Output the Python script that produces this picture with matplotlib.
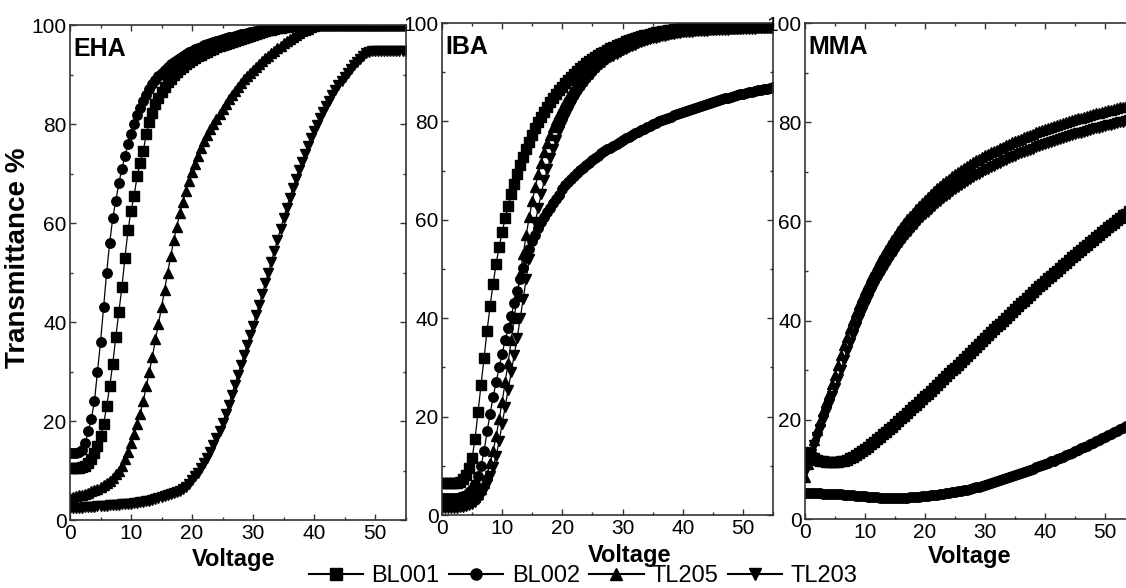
import numpy as np
import matplotlib
matplotlib.use("Agg")
import matplotlib.pyplot as plt
import matplotlib.transforms as mtransforms
from matplotlib.ticker import MultipleLocator
from matplotlib.lines import Line2D

plt.rcParams['font.family'] = ['Liberation Sans', 'DejaVu Sans']

# voltage sweep, one reading every 0.5 V
voltage = np.arange(0, 55.5, 0.5)

series_names = ["BL001", "BL002", "TL205", "TL203"]
series_markers = ["s", "o", "^", "v"]
panel_names = ["EHA", "IBA", "MMA"]

# ---- EHA ----
eha_bl001 = [10.5, 10.5, 10.6, 10.6, 10.8, 11.0, 11.5, 12.3, 13.5, 15.0,
             17.0, 19.3, 23.0, 27.0, 31.5, 37.0, 42.0, 47.0, 53.0, 58.5,
             62.5, 65.5, 69.5, 72.2, 74.5, 78.0, 80.5, 82.3, 84.0, 85.3,
             86.5, 87.5, 88.4, 89.2, 89.9, 90.5, 91.1, 91.6, 92.1, 92.5,
             92.9, 93.3, 93.7, 94.0, 94.3, 94.6, 94.9, 95.2, 95.5, 95.7,
             96.0, 96.2, 96.4, 96.6, 96.8, 97.0, 97.2, 97.4, 97.6, 97.8,
             98.0, 98.2, 98.4, 98.6, 98.8, 98.9, 99.1, 99.2, 99.4, 99.5,
             99.6, 99.7, 99.8, 99.9, 100, 100, 100, 100, 100, 100,
             100, 100, 100, 100, 100, 100, 100, 100, 100, 100,
             100, 100, 100, 100, 100, 100, 100, 100, 100, 100,
             100, 100, 100, 100, 100, 100, 100, 100, 100, 100,
             100]
eha_bl002 = [13.5, 13.5, 13.6, 13.8, 14.2, 15.5, 18.0, 20.5, 24.0, 30.0,
             36.0, 43.0, 50.0, 56.0, 61.0, 64.5, 68.0, 71.0, 73.5, 76.0,
             78.0, 80.0, 81.8, 83.3, 84.7, 85.9, 87.0, 88.0, 88.9, 89.7,
             90.4, 91.0, 91.6, 92.1, 92.6, 93.0, 93.4, 93.8, 94.2, 94.5,
             94.8, 95.1, 95.4, 95.6, 95.9, 96.1, 96.3, 96.5, 96.7, 96.9,
             97.1, 97.3, 97.5, 97.6, 97.8, 97.9, 98.1, 98.2, 98.4, 98.5,
             98.6, 98.8, 98.9, 99.0, 99.1, 99.2, 99.3, 99.4, 99.5, 99.6,
             99.7, 99.8, 99.9, 100, 100, 100, 100, 100, 100, 100,
             100, 100, 100, 100, 100, 100, 100, 100, 100, 100,
             100, 100, 100, 100, 100, 100, 100, 100, 100, 100,
             100, 100, 100, 100, 100, 100, 100, 100, 100, 100,
             100]
eha_tl205 = [4.5, 4.6, 4.8, 5.0, 5.1, 5.3, 5.5, 5.8, 6.0, 6.3,
             6.6, 7.0, 7.4, 7.9, 8.5, 9.2, 10.0, 11.0, 12.3, 13.8,
             15.5, 17.3, 19.3, 21.5, 24.0, 27.0, 30.0, 33.0, 36.5, 39.7,
             43.0, 46.5, 50.0, 53.3, 56.5, 59.3, 62.0, 64.3, 66.5, 68.5,
             70.3, 72.0, 73.6, 75.1, 76.5, 77.8, 79.0, 80.1, 81.1, 82.1,
             83.1, 84.1, 85.0, 85.9, 86.7, 87.5, 88.3, 89.0, 89.7, 90.4,
             91.0, 91.6, 92.2, 92.8, 93.3, 93.8, 94.3, 94.8, 95.3, 95.8,
             96.3, 96.7, 97.1, 97.5, 97.9, 98.3, 98.7, 99.0, 99.3, 99.6,
             99.8, 100, 100, 100, 100, 100, 100, 100, 100, 100,
             100, 100, 100, 100, 100, 100, 100, 100, 100, 100,
             100, 100, 100, 100, 100, 100, 100, 100, 100, 100,
             100]
eha_tl203 = [2.4, 2.4, 2.5, 2.5, 2.5, 2.6, 2.6, 2.7, 2.7, 2.8,
             2.8, 2.9, 2.9, 3.0, 3.0, 3.1, 3.1, 3.2, 3.2, 3.3,
             3.3, 3.4, 3.5, 3.6, 3.7, 3.8, 3.9, 4.0, 4.2, 4.4,
             4.6, 4.8, 5.0, 5.2, 5.4, 5.6, 5.9, 6.2, 6.6, 7.2,
             8.0, 8.8, 9.6, 10.5, 11.5, 12.6, 13.8, 15.1, 16.5, 18.0,
             19.6, 21.4, 23.3, 25.3, 27.3, 29.3, 31.3, 33.3, 35.3, 37.3,
             39.3, 41.4, 43.5, 45.6, 47.8, 50.0, 52.2, 54.4, 56.6, 58.8,
             61.0, 63.1, 65.1, 67.0, 68.9, 70.7, 72.4, 74.0, 75.6, 77.1,
             78.5, 79.9, 81.2, 82.4, 83.6, 84.7, 85.8, 86.8, 87.8, 88.7,
             89.6, 90.4, 91.2, 91.9, 92.6, 93.2, 93.8, 94.3, 94.6, 94.7,
             94.7, 94.7, 94.7, 94.7, 94.7, 94.7, 94.7, 94.7, 94.7, 94.7,
             94.7]

# ---- IBA ----
iba_bl001 = [6.5, 6.5, 6.5, 6.5, 6.5, 6.6, 6.8, 7.3, 8.2, 9.5,
             11.5, 15.5, 21.0, 26.5, 32.0, 37.5, 42.5, 47.0, 51.0, 54.5,
             57.5, 60.3, 62.8, 65.2, 67.3, 69.3, 71.1, 72.8, 74.4, 75.9,
             77.3, 78.6, 79.8, 80.9, 82.0, 83.0, 83.9, 84.8, 85.6, 86.4,
             87.1, 87.8, 88.5, 89.1, 89.7, 90.3, 90.8, 91.3, 91.8, 92.3,
             92.7, 93.1, 93.5, 93.9, 94.2, 94.6, 94.9, 95.2, 95.5, 95.8,
             96.0, 96.3, 96.5, 96.7, 96.9, 97.1, 97.3, 97.5, 97.6, 97.8,
             97.9, 98.1, 98.2, 98.3, 98.4, 98.5, 98.6, 98.7, 98.8, 98.9,
             99.0, 99.0, 99.1, 99.2, 99.2, 99.3, 99.3, 99.4, 99.4, 99.5,
             99.5, 99.5, 99.6, 99.6, 99.6, 99.7, 99.7, 99.7, 99.8, 99.8,
             99.8, 99.8, 99.8, 99.9, 99.9, 99.9, 99.9, 99.9, 100, 100,
             100]
iba_bl002 = [3.5, 3.5, 3.5, 3.5, 3.5, 3.5, 3.6, 3.8, 4.1, 4.6,
             5.3, 6.4, 8.0, 10.0, 13.0, 17.0, 20.5, 24.0, 27.0, 30.0,
             32.8, 35.5, 38.0, 40.5, 43.0, 45.5, 48.0, 50.2, 52.2, 54.0,
             55.6, 57.0, 58.3, 59.5, 60.6, 61.6, 62.5, 63.4, 64.2, 65.0,
             66.3, 67.0, 67.7, 68.4, 69.0, 69.6, 70.1, 70.6, 71.1, 71.6,
             72.1, 72.6, 73.0, 73.5, 73.9, 74.3, 74.7, 75.1, 75.5, 75.9,
             76.2, 76.6, 76.9, 77.3, 77.6, 77.9, 78.2, 78.5, 78.8, 79.1,
             79.4, 79.7, 80.0, 80.2, 80.5, 80.8, 81.0, 81.3, 81.5, 81.7,
             82.0, 82.2, 82.4, 82.6, 82.8, 83.0, 83.2, 83.4, 83.6, 83.8,
             84.0, 84.2, 84.3, 84.5, 84.7, 84.8, 85.0, 85.2, 85.3, 85.5,
             85.6, 85.7, 85.9, 86.0, 86.1, 86.3, 86.4, 86.5, 86.6, 86.8,
             86.9]
iba_tl205 = [2.5, 2.5, 2.5, 2.5, 2.5, 2.5, 2.6, 2.7, 2.8, 3.0,
             3.3, 3.7, 4.3, 5.2, 6.5, 8.2, 10.5, 13.0, 16.0, 19.5,
             23.0, 27.0, 31.0, 35.5, 40.0, 44.5, 49.0, 53.0, 57.0, 60.5,
             63.8, 66.7, 69.3, 71.6, 73.7, 75.6, 77.3, 78.9, 80.3, 81.6,
             82.8, 83.9, 84.9, 85.9, 86.8, 87.6, 88.4, 89.1, 89.8, 90.4,
             91.0, 91.6, 92.1, 92.6, 93.0, 93.5, 93.9, 94.2, 94.6, 94.9,
             95.2, 95.5, 95.8, 96.0, 96.3, 96.5, 96.7, 96.9, 97.1, 97.3,
             97.4, 97.6, 97.7, 97.8, 97.9, 98.0, 98.1, 98.2, 98.3, 98.4,
             98.5, 98.5, 98.6, 98.6, 98.7, 98.7, 98.7, 98.8, 98.8, 98.8,
             98.9, 98.9, 98.9, 98.9, 99.0, 99.0, 99.0, 99.0, 99.0, 99.1,
             99.1, 99.1, 99.1, 99.1, 99.2, 99.2, 99.2, 99.2, 99.2, 99.2,
             99.2]
iba_tl203 = [1.5, 1.5, 1.5, 1.5, 1.5, 1.5, 1.6, 1.7, 1.8, 2.0,
             2.2, 2.6, 3.2, 4.0, 5.0, 6.3, 8.0, 9.8, 12.0, 15.0,
             18.5, 22.0, 25.5, 29.0, 32.5, 36.0, 40.0, 44.0, 48.0, 52.0,
             56.0, 59.5, 62.5, 65.3, 68.0, 70.3, 72.5, 74.5, 76.3, 78.0,
             79.5, 80.9, 82.2, 83.4, 84.5, 85.5, 86.5, 87.4, 88.2, 89.0,
             89.7, 90.4, 91.0, 91.6, 92.1, 92.6, 93.0, 93.4, 93.8, 94.2,
             94.5, 94.8, 95.1, 95.4, 95.6, 95.9, 96.1, 96.3, 96.5, 96.7,
             96.9, 97.0, 97.2, 97.3, 97.4, 97.6, 97.7, 97.8, 97.9, 98.0,
             98.1, 98.1, 98.2, 98.2, 98.3, 98.3, 98.4, 98.4, 98.4, 98.5,
             98.5, 98.5, 98.6, 98.6, 98.6, 98.6, 98.7, 98.7, 98.7, 98.7,
             98.8, 98.8, 98.8, 98.8, 98.8, 98.9, 98.9, 98.9, 98.9, 98.9,
             99.0]

# ---- MMA ----
mma_bl001 = [13.5, 13.0, 12.6, 12.3, 12.0, 11.8, 11.6, 11.5, 11.4, 11.4,
             11.4, 11.5, 11.6, 11.8, 12.0, 12.3, 12.6, 12.9, 13.3, 13.7,
             14.1, 14.6, 15.1, 15.6, 16.1, 16.6, 17.1, 17.6, 18.1, 18.6,
             19.2, 19.7, 20.3, 20.8, 21.4, 21.9, 22.5, 23.0, 23.6, 24.2,
             24.8, 25.3, 25.9, 26.5, 27.1, 27.6, 28.2, 28.8, 29.4, 30.0,
             30.5, 31.1, 31.7, 32.3, 32.9, 33.5, 34.1, 34.7, 35.3, 35.9,
             36.5, 37.1, 37.7, 38.3, 38.9, 39.4, 40.0, 40.6, 41.2, 41.7,
             42.3, 42.9, 43.5, 44.0, 44.6, 45.2, 45.8, 46.3, 46.9, 47.4,
             48.0, 48.5, 49.1, 49.6, 50.1, 50.7, 51.2, 51.7, 52.3, 52.8,
             53.3, 53.8, 54.3, 54.8, 55.3, 55.8, 56.3, 56.8, 57.3, 57.8,
             58.3, 58.8, 59.3, 59.7, 60.2, 60.7, 61.2, 61.6, 62.1, 62.5,
             63.0]
mma_bl002 = [5.2, 5.2, 5.2, 5.2, 5.2, 5.2, 5.1, 5.1, 5.1, 5.1,
             5.0, 5.0, 5.0, 4.9, 4.9, 4.8, 4.8, 4.7, 4.7, 4.6,
             4.6, 4.5, 4.5, 4.4, 4.4, 4.3, 4.3, 4.3, 4.2, 4.2,
             4.2, 4.2, 4.3, 4.3, 4.3, 4.4, 4.4, 4.5, 4.5, 4.6,
             4.6, 4.7, 4.8, 4.8, 4.9, 5.0, 5.1, 5.2, 5.3, 5.4,
             5.5, 5.6, 5.7, 5.8, 5.9, 6.1, 6.2, 6.4, 6.5, 6.7,
             6.9, 7.0, 7.2, 7.4, 7.6, 7.8, 8.0, 8.2, 8.4, 8.6,
             8.8, 9.0, 9.2, 9.4, 9.7, 9.9, 10.1, 10.4, 10.6, 10.8,
             11.1, 11.3, 11.6, 11.8, 12.1, 12.4, 12.6, 12.9, 13.2, 13.4,
             13.7, 14.0, 14.3, 14.5, 14.8, 15.1, 15.4, 15.7, 16.0, 16.3,
             16.6, 16.9, 17.2, 17.5, 17.8, 18.1, 18.4, 18.7, 19.0, 19.3,
             19.6]
mma_tl205 = [8.5, 11.0, 13.8, 16.0, 18.0, 19.8, 21.7, 23.5, 25.3, 27.2,
             29.1, 31.1, 33.1, 35.0, 36.8, 38.5, 40.2, 41.8, 43.3, 44.7,
             46.1, 47.4, 48.7, 49.9, 51.1, 52.2, 53.3, 54.3, 55.3, 56.2,
             57.1, 58.0, 58.8, 59.6, 60.4, 61.1, 61.8, 62.5, 63.2, 63.8,
             64.4, 65.0, 65.6, 66.2, 66.7, 67.2, 67.7, 68.2, 68.6, 69.1,
             69.5, 70.0, 70.4, 70.8, 71.2, 71.6, 71.9, 72.3, 72.6, 73.0,
             73.3, 73.6, 73.9, 74.2, 74.5, 74.8, 75.1, 75.4, 75.7, 76.0,
             76.2, 76.5, 76.7, 77.0, 77.2, 77.5, 77.7, 78.0, 78.2, 78.4,
             78.6, 78.8, 79.0, 79.2, 79.4, 79.6, 79.8, 80.0, 80.2, 80.4,
             80.6, 80.8, 80.9, 81.1, 81.3, 81.5, 81.6, 81.8, 81.9, 82.1,
             82.2, 82.4, 82.5, 82.7, 82.8, 83.0, 83.1, 83.3, 83.4, 83.6,
             83.7]
mma_tl203 = [9.5, 11.0, 13.2, 15.0, 16.6, 18.2, 19.9, 21.5, 23.1, 24.8,
             26.5, 28.3, 30.1, 32.0, 33.8, 35.5, 37.2, 38.8, 40.3, 41.7,
             43.1, 44.4, 45.7, 46.9, 48.1, 49.2, 50.3, 51.3, 52.3, 53.2,
             54.1, 55.0, 55.8, 56.6, 57.4, 58.1, 58.8, 59.5, 60.2, 60.8,
             61.4, 62.0, 62.6, 63.2, 63.7, 64.2, 64.7, 65.2, 65.6, 66.1,
             66.5, 67.0, 67.4, 67.8, 68.2, 68.6, 68.9, 69.3, 69.6, 70.0,
             70.3, 70.6, 70.9, 71.2, 71.5, 71.8, 72.1, 72.4, 72.7, 73.0,
             73.2, 73.5, 73.7, 74.0, 74.2, 74.5, 74.7, 75.0, 75.2, 75.4,
             75.6, 75.8, 76.0, 76.2, 76.4, 76.6, 76.8, 77.0, 77.2, 77.4,
             77.6, 77.8, 77.9, 78.1, 78.3, 78.5, 78.6, 78.8, 78.9, 79.1,
             79.2, 79.4, 79.5, 79.7, 79.8, 80.0, 80.1, 80.3, 80.4, 80.6,
             80.7]

panels = [
    [eha_bl001, eha_bl002, eha_tl205, eha_tl203],
    [iba_bl001, iba_bl002, iba_tl205, iba_tl203],
    [mma_bl001, mma_bl002, mma_tl205, mma_tl203],
]

fig = plt.figure(figsize=(11.26, 5.88), dpi=100)

# axes boxes in figure fractions (left, bottom, width, height)
boxes = [
    [0.0622, 0.1156, 0.2980, 0.8418],
    [0.3925, 0.1241, 0.2940, 0.8367],
    [0.7149, 0.1173, 0.2931, 0.8435],
]
xlabel_pos = [(0.487, -0.056), (0.568, -0.058), (0.500, -0.052)]

# the "0" of the y axis sits a little higher than the others, as in the source
zero_shift = mtransforms.ScaledTranslation(-2 / 72, 4 / 72, fig.dpi_scale_trans)

for k in range(3):
    ax = fig.add_axes(boxes[k])
    for s in range(4):
        ax.plot(voltage, panels[k][s], color='k', lw=0.9,
                marker=series_markers[s], ms=6.8, mfc='k', mec='k')
    ax.set_xlim(0, 55)
    ax.set_ylim(0, 100)
    ax.xaxis.set_major_locator(MultipleLocator(10))
    ax.xaxis.set_minor_locator(MultipleLocator(5))
    ax.yaxis.set_major_locator(MultipleLocator(20))
    ax.yaxis.set_minor_locator(MultipleLocator(10))
    ax.tick_params(which='both', direction='in', top=True, right=True,
                   labelsize=15, width=1, color='#333333')
    ax.tick_params(axis='x', pad=3)
    ax.tick_params(axis='y', pad=2.5)
    ax.tick_params(which='major', length=4)
    ax.tick_params(which='minor', length=2.5)
    for sp in ax.spines.values():
        sp.set_linewidth(1.2)
        sp.set_color('#333333')
    ax.set_xlabel("Voltage", fontsize=17, fontweight='bold')
    ax.xaxis.set_label_coords(*xlabel_pos[k])
    ax.text(0.01, 0.975, panel_names[k], transform=ax.transAxes,
            fontsize=18, fontweight='bold', ha='left', va='top')
    if k == 0:
        ax.set_ylabel("Transmittance %", fontsize=20, fontweight='bold')
        ax.yaxis.set_label_coords(-0.115, 0.53)
    fig.canvas.draw()
    ylab0 = ax.get_yticklabels()[0]
    ylab0.set_transform(ylab0.get_transform() + zero_shift)

handles = [Line2D([], [], color='k', lw=1.5, marker=m, ms=8, mfc='k', mec='k')
           for m in series_markers]
fig.legend(handles, series_names, loc='center', bbox_to_anchor=(0.518, 0.02),
           ncol=4, frameon=False, fontsize=17, handlelength=2.3,
           handletextpad=0.35, columnspacing=0.4, borderpad=0)

fig.savefig("out.png", dpi=100)
